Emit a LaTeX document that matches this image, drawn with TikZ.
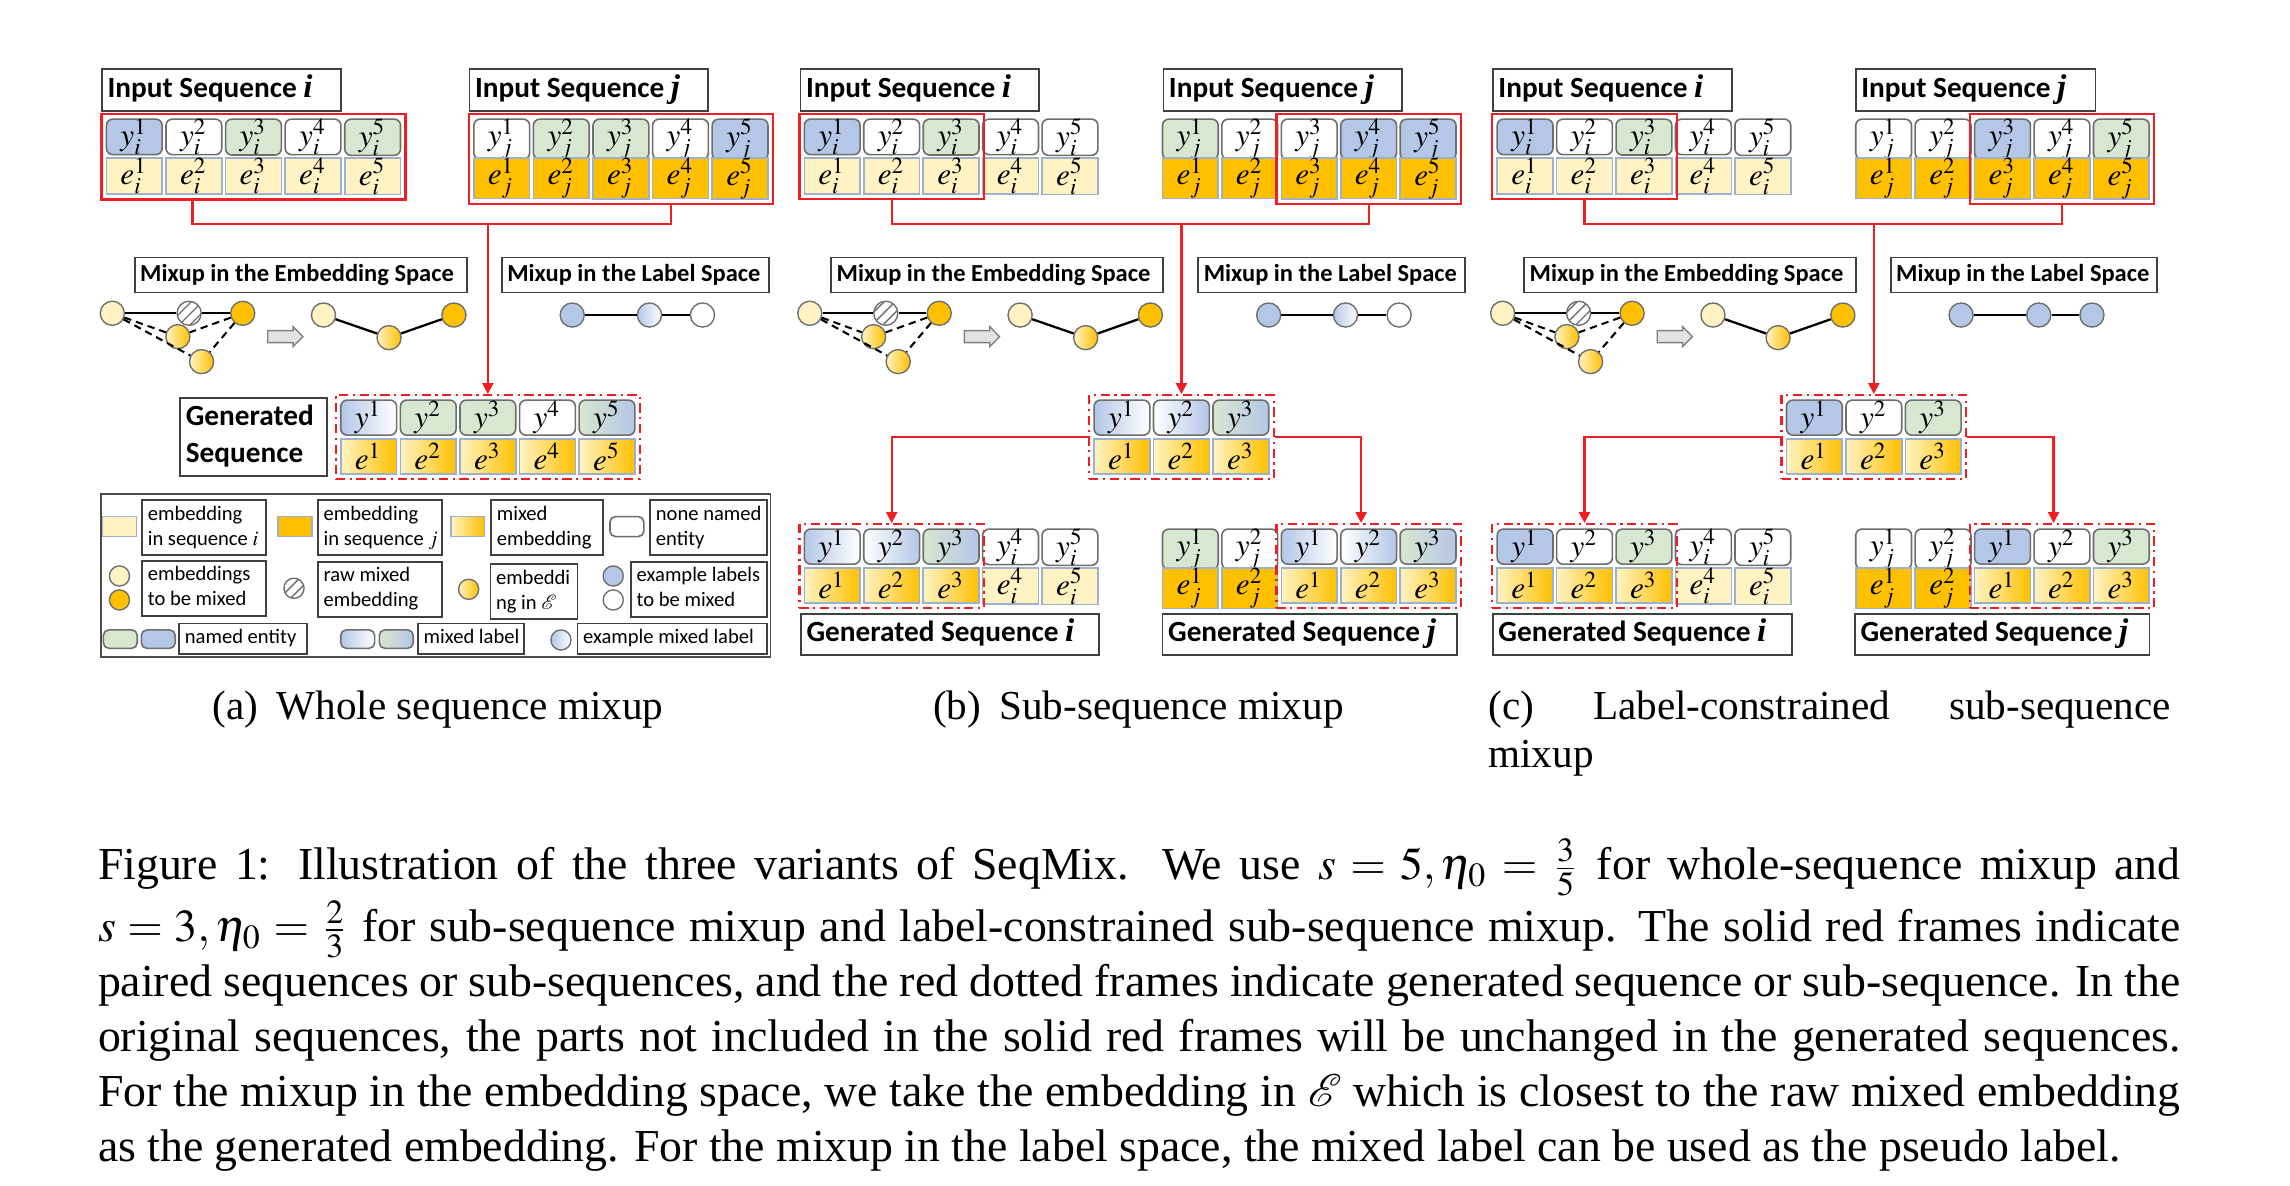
\documentclass[tikz,border=0pt]{standalone}
\usepackage{mathptmx}
\usepackage{fontspec}
\setmainfont{Liberation Serif}
\newfontfamily\calib{Carlito}
\newfontfamily\tms{Liberation Serif}
\usetikzlibrary{patterns.meta,fit,arrows.meta}
\definecolor{lblue}{HTML}{B4C7E7}
\definecolor{lgreen}{HTML}{D8E7D0}
\definecolor{lyel}{HTML}{FFF3C4}
\definecolor{orng}{HTML}{FFC000}
\definecolor{ybord}{HTML}{6E6E6E}
\definecolor{ebord}{HTML}{9FB0CB}
\definecolor{myred}{HTML}{F01E23}
\newdimen\uu \uu=0.31924pt
\newcommand\ib[1]{{\tms\bfseries\itshape\fontsize{7.2}{8}\selectfont #1}}
\tikzset{
 ycell/.style={draw=ybord, line width=0.35pt, rounded corners=1.4pt, minimum width=38.2\uu, minimum height=24\uu, inner sep=0pt, font=\fontsize{6.8}{7.5}\selectfont},
 ecell/.style={draw=ebord, line width=0.35pt, minimum width=38.2\uu, minimum height=24\uu, inner sep=0pt, font=\fontsize{6.8}{7.5}\selectfont},
 yb/.style={fill=lblue}, yw/.style={fill=white}, yg/.style={fill=lgreen},
 ybw/.style={left color=lblue, right color=white},
 ywb/.style={left color=white, right color=lblue},
 ygb/.style={left color=lgreen, right color=lblue},
 ei/.style={fill=lyel}, ej/.style={fill=orng}, em/.style={left color=lyel, right color=orng},
 redframe/.style={draw=myred, line width=0.5pt, inner sep=2.8\uu},
 genframe/.style={draw=myred, line width=0.5pt, inner sep=2.8\uu, dash pattern=on 2pt off 1pt on 0.5pt off 1pt},
 redline/.style={draw=myred, line width=0.5pt},
 redarrow/.style={draw=myred, line width=0.5pt, -{Triangle[length=2.4pt,width=2.4pt]}},
 tbox/.style={draw=black!75, line width=0.4pt, fill=white, inner sep=0pt, anchor=north west, font=\calib\bfseries\fontsize{6.4}{8}\selectfont},
 mixfont/.style={font=\calib\bfseries\fontsize{5.35}{6.5}\selectfont},
 legfont/.style={font=\calib\fontsize{4.5}{5.45}\selectfont},
 gc/.style={circle, draw=ybord, line width=0.3pt, minimum size=16.5\uu, inner sep=0pt},
 lc/.style={gc, minimum size=13.8\uu},
 hat/.style={fill=white, postaction={pattern={Lines[angle=45,distance=1.7pt,line width=0.3pt]}, pattern color=ybord}},
 gline/.style={line width=0.5pt, black},
 dline/.style={line width=0.45pt, black, dash pattern=on 1.6pt off 1.1pt},
 garrowst/.style={draw=gray, fill=gray!22, line width=0.3pt},
 sw/.style={line width=0.35pt, minimum width=23.2\uu, minimum height=13.7\uu, inner sep=0pt},
 swr/.style={draw=ybord, line width=0.35pt, rounded corners=1.2pt, minimum width=23.2\uu, minimum height=12.6\uu, inner sep=0pt},
}
\newcommand\cp[7]{%
  \node[ycell,#4,anchor=north west] (#1y) at (#2,#3) {$#5$};
  \node[ecell,#6,anchor=north west] (#1e) at (#2,#3+26.8) {$#7$};}
\newcommand\tb[7][]{\node[tbox,#1,minimum width=#5\uu,minimum height=#6\uu] (#2) at (#3,#4) {\hbox to #5\uu{\hskip3.8\uu\begin{tabular}{@{}l@{}}#7\end{tabular}\hfil}};}
% block arrow: #1 = left x, #2 = centre y
\newcommand\blockarrow[2]{\draw[garrowst] (#1,#2-4.1) -- (#1+17.4,#2-4.1) -- (#1+17.4,#2-6.85) -- (#1+24.1,#2) -- (#1+17.4,#2+6.85) -- (#1+17.4,#2+4.1) -- (#1,#2+4.1) -- cycle;}
\begin{document}
\begin{tikzpicture}[x=0.31924pt,y=-0.31924pt]
\path[use as bounding box, fill=white] (0,0) rectangle (1568,812);

% ================= Panel (a) =================
\tb{aIn}{69.3}{46.8}{163.5}{28.5}{Input Sequence \ib{i}}
\tb{aJn}{320.9}{46.8}{163.5}{28.5}{Input Sequence \ib{j}}
\cp{ai1}{72.3}{81}{yb}{y_i^1}{ei}{e_i^1}
\cp{ai2}{113.1}{81}{yw}{y_i^2}{ei}{e_i^2}
\cp{ai3}{153.9}{81}{yg}{y_i^3}{ei}{e_i^3}
\cp{ai4}{194.7}{81}{yw}{y_i^4}{ei}{e_i^4}
\cp{ai5}{235.5}{81}{yg}{y_i^5}{ei}{e_i^5}
\cp{aj1}{323.9}{81}{yw}{y_j^1}{ej}{e_j^1}
\cp{aj2}{364.7}{81}{yg}{y_j^2}{ej}{e_j^2}
\cp{aj3}{405.5}{81}{yg}{y_j^3}{ej}{e_j^3}
\cp{aj4}{446.3}{81}{yw}{y_j^4}{ej}{e_j^4}
\cp{aj5}{487.1}{81}{yb}{y_j^5}{ej}{e_j^5}
\node[redframe, fit=(ai1y)(ai5e)] (aIfr) {};
\node[redframe, fit=(aj1y)(aj5e)] (aJfr) {};
\tb[mixfont]{aEmb}{91.6}{175.7}{227.4}{24}{Mixup in the Embedding Space}
\tb[mixfont]{aLab}{342.9}{175.7}{182.8}{24}{Mixup in the Label Space}
\node[gc, fill=lyel] (ac1) at (76.9,214.5) {};
\node[gc, hat] (ac2) at (129.5,214.5) {};
\node[gc, fill=orng] (ac3) at (166.2,214.5) {};
\node[gc, em] (ac4) at (121.8,230.5) {};
\node[gc, em] (ac5) at (138,247.6) {};
\draw[gline] (ac1) -- (ac2) -- (ac3);
\draw[dline] (ac1) -- (ac4); \draw[dline] (ac1) -- (ac5);
\draw[dline] (ac3) -- (ac4); \draw[dline] (ac3) -- (ac5);
\blockarrow{183.3}{230.5}
\node[gc, fill=lyel] (ad1) at (221.5,215.7) {};
\node[gc, em] (ad2) at (266.4,231.2) {};
\node[gc, fill=orng] (ad3) at (310.8,215.7) {};
\draw[gline] (ad1) -- (ad2) -- (ad3);
\node[gc, fill=lblue] (al1) at (391.8,215.7) {};
\node[gc, ybw] (al2) at (444.7,215.7) {};
\node[gc, fill=white] (al3) at (481,215.7) {};
\draw[gline] (al1) -- (al2) -- (al3);
\tb{aGen}{122.8}{271.6}{100.2}{53.6}{Generated\\Sequence}
\cp{ag1}{232.8}{273.4}{ybw}{y^1}{em}{e^1}
\cp{ag2}{273.6}{273.4}{yg}{y^2}{em}{e^2}
\cp{ag3}{314.4}{273.4}{yg}{y^3}{em}{e^3}
\cp{ag4}{355.2}{273.4}{yw}{y^4}{em}{e^4}
\cp{ag5}{396.0}{273.4}{ygb}{y^5}{em}{e^5}
\node[genframe, fit=(ag1y)(ag5e)] (aGfr) {};
\coordinate (aL) at (131.9,153.6);
\coordinate (aR) at (459.6,153.6);
\draw[redline] (aIfr.south -| aL) -- (aL) -- (aR) -- (aJfr.south -| aR);
\draw[redarrow] (aGfr.north |- aL) -- (aGfr.north);

% legend
\node[draw=black!70, line width=0.4pt, anchor=north west, minimum width=458.6\uu, minimum height=111.3\uu, inner sep=0pt] (leg) at (68.3,337.8) {};
\node[sw, draw=ebord, fill=lyel] (lsA) at (81.8,360.55) {};
\tb[legfont]{ltA}{96.8}{341.9}{84.7}{37.4}{embedding\\in sequence $i$}
\node[sw, draw=ebord, fill=orng] (lsB) at (201.95,360.55) {};
\tb[legfont]{ltB}{217.2}{341.9}{84.7}{37.4}{embedding\\in sequence $j$}
\node[sw, draw=ebord, em] (lsC) at (320.25,360.55) {};
\tb[legfont]{ltC}{335.8}{341.9}{76.2}{37.4}{mixed\\embedding}
\node[swr, fill=white, minimum height=13.7\uu] (lsD) at (429.25,360.55) {};
\tb[legfont]{ltD}{444.7}{341.9}{80.1}{37.4}{none named\\entity}
\node[lc, fill=lyel] (lcA1) at (81.8,394.4) {};
\node[lc, fill=orng] (lcA2) at (81.8,410.8) {};
\tb[legfont]{ltE}{96.8}{383.4}{84.7}{37.7}{embeddings\\to be mixed}
\node[lc, hat] (lcB) at (201.3,402.8) {};
\tb[legfont]{ltF}{217.2}{384.1}{84.7}{37.7}{raw mixed\\embedding}
\node[lc, em] (lcC) at (320.9,403.5) {};
\tb[legfont]{ltG}{335.2}{385.7}{59.6}{37.7}{embeddi\\ng in $\mathcal{E}$}
\node[lc, fill=lblue] (lcD1) at (419.9,394.4) {};
\node[lc, fill=white] (lcD2) at (419.9,410.8) {};
\tb[legfont]{ltH}{431.5}{384.1}{93.3}{37.7}{example labels\\to be mixed}
\node[swr, fill=lgreen] (lsE1) at (82.4,437.6) {};
\node[swr, fill=lblue] (lsE2) at (108.4,437.6) {};
\tb[legfont]{ltI}{122.2}{426.3}{87.1}{20.6}{named entity}
\node[swr, ybw] (lsF1) at (244.9,437.6) {};
\node[swr, ygb] (lsF2) at (271.35,437.6) {};
\tb[legfont]{ltJ}{285.7}{426.3}{72.5}{20.6}{mixed label}
\node[lc, ybw] (lcK) at (384.1,438.2) {};
\tb[legfont]{ltK}{394.8}{426.3}{130}{20.6}{example mixed label}

% ================= Panel (b) =================
\tb{bIn}{547.5}{46.8}{163.2}{28.5}{Input Sequence \ib{i}}
\tb{bJn}{796}{46.8}{163.5}{28.5}{Input Sequence \ib{j}}
\cp{bi1}{550.2}{81}{yb}{y_i^1}{ei}{e_i^1}
\cp{bi2}{590.9}{81}{yw}{y_i^2}{ei}{e_i^2}
\cp{bi3}{631.6}{81}{yg}{y_i^3}{ei}{e_i^3}
\cp{bi4}{672.3}{81}{yw}{y_i^4}{ei}{e_i^4}
\cp{bi5}{713.0}{81}{yw}{y_i^5}{ei}{e_i^5}
\cp{bj1}{795.4}{81}{yg}{y_j^1}{ej}{e_j^1}
\cp{bj2}{836.1}{81}{yw}{y_j^2}{ej}{e_j^2}
\cp{bj3}{876.8}{81}{yw}{y_j^3}{ej}{e_j^3}
\cp{bj4}{917.5}{81}{yb}{y_j^4}{ej}{e_j^4}
\cp{bj5}{958.2}{81}{yb}{y_j^5}{ej}{e_j^5}
\node[redframe, fit=(bi1y)(bi3e)] (bIfr) {};
\node[redframe, fit=(bj3y)(bj5e)] (bJfr) {};
\tb[mixfont]{bEmb}{568.5}{175.7}{227.2}{24}{Mixup in the Embedding Space}
\tb[mixfont]{bLab}{819.8}{175.7}{182.5}{24}{Mixup in the Label Space}
\node[gc, fill=lyel] (bc1) at (554.5,214.5) {};
\node[gc, hat] (bc2) at (606.5,214.5) {};
\node[gc, fill=orng] (bc3) at (643.1,214.5) {};
\node[gc, em] (bc4) at (598.2,230.5) {};
\node[gc, em] (bc5) at (615,247.6) {};
\draw[gline] (bc1) -- (bc2) -- (bc3);
\draw[dline] (bc1) -- (bc4); \draw[dline] (bc1) -- (bc5);
\draw[dline] (bc3) -- (bc4); \draw[dline] (bc3) -- (bc5);
\blockarrow{660.3}{230.5}
\node[gc, fill=lyel] (bd1) at (698.5,215.7) {};
\node[gc, em] (bd2) at (743.4,231.2) {};
\node[gc, fill=orng] (bd3) at (787.7,215.7) {};
\draw[gline] (bd1) -- (bd2) -- (bd3);
\node[gc, fill=lblue] (bl1) at (868.7,215.7) {};
\node[gc, ybw] (bl2) at (921.3,215.7) {};
\node[gc, fill=white] (bl3) at (958,215.7) {};
\draw[gline] (bl1) -- (bl2) -- (bl3);
\cp{bg1}{748.6}{273.4}{ybw}{y^1}{em}{e^1}
\cp{bg2}{789.3}{273.4}{ywb}{y^2}{em}{e^2}
\cp{bg3}{830.0}{273.4}{ygb}{y^3}{em}{e^3}
\node[genframe, fit=(bg1y)(bg3e)] (bGfr) {};
\cp{bgi1}{550.2}{361.7}{ybw}{y^1}{em}{e^1}
\cp{bgi2}{590.9}{361.7}{ywb}{y^2}{em}{e^2}
\cp{bgi3}{631.6}{361.7}{ygb}{y^3}{em}{e^3}
\cp{bgi4}{672.3}{361.7}{yw}{y_i^4}{ei}{e_i^4}
\cp{bgi5}{713.0}{361.7}{yw}{y_i^5}{ei}{e_i^5}
\cp{bgj1}{795.4}{361.7}{yg}{y_j^1}{ej}{e_j^1}
\cp{bgj2}{836.1}{361.7}{yw}{y_j^2}{ej}{e_j^2}
\cp{bgj3}{876.8}{361.7}{ybw}{y^1}{em}{e^1}
\cp{bgj4}{917.5}{361.7}{ywb}{y^2}{em}{e^2}
\cp{bgj5}{958.2}{361.7}{ygb}{y^3}{em}{e^3}
\node[genframe, fit=(bgi1y)(bgi3e)] (bGIfr) {};
\node[genframe, fit=(bgj3y)(bgj5e)] (bGJfr) {};
\tb{bGIl}{547.8}{419.5}{204.2}{28.5}{Generated Sequence \ib{i}}
\tb{bGJl}{795.4}{419.5}{201.7}{28.5}{Generated Sequence \ib{j}}
\coordinate (bM) at (0,153.6);
\coordinate (bRx) at (932,0);
\draw[redline] (bIfr.south) -- (bIfr.south |- bM) -- (bJfr.south |- bM) -- (bJfr.south);
\draw[redarrow] (bGfr.north |- bM) -- (bGfr.north);
\draw[redarrow] (bGfr.west) -| (bGIfr.north);
\draw[redarrow] (bGfr.east) -| (bGJfr.north -| bRx);

% ================= Panel (c) =================
\tb{cIn}{1021.6}{46.8}{163.5}{28.5}{Input Sequence \ib{i}}
\tb{cJn}{1270.1}{46.8}{164.1}{28.5}{Input Sequence \ib{j}}
\cp{ci1}{1024.6}{81}{yb}{y_i^1}{ei}{e_i^1}
\cp{ci2}{1065.3}{81}{yw}{y_i^2}{ei}{e_i^2}
\cp{ci3}{1106.0}{81}{yg}{y_i^3}{ei}{e_i^3}
\cp{ci4}{1146.7}{81}{yw}{y_i^4}{ei}{e_i^4}
\cp{ci5}{1187.4}{81}{yw}{y_i^5}{ei}{e_i^5}
\cp{cj1}{1270.1}{81}{yw}{y_j^1}{ej}{e_j^1}
\cp{cj2}{1310.8}{81}{yw}{y_j^2}{ej}{e_j^2}
\cp{cj3}{1351.5}{81}{yb}{y_j^3}{ej}{e_j^3}
\cp{cj4}{1392.2}{81}{yw}{y_j^4}{ej}{e_j^4}
\cp{cj5}{1432.9}{81}{yg}{y_j^5}{ej}{e_j^5}
\node[redframe, fit=(ci1y)(ci3e)] (cIfr) {};
\node[redframe, fit=(cj3y)(cj5e)] (cJfr) {};
\tb[mixfont]{cEmb}{1043}{175.7}{227.1}{24}{Mixup in the Embedding Space}
\tb[mixfont]{cLab}{1293.9}{175.7}{182.5}{24}{Mixup in the Label Space}
\node[gc, fill=lyel] (cc1) at (1028.9,214.5) {};
\node[gc, hat] (cc2) at (1080.9,214.5) {};
\node[gc, fill=orng] (cc3) at (1117.5,214.5) {};
\node[gc, em] (cc4) at (1072.9,230.5) {};
\node[gc, em] (cc5) at (1089.1,247.6) {};
\draw[gline] (cc1) -- (cc2) -- (cc3);
\draw[dline] (cc1) -- (cc4); \draw[dline] (cc1) -- (cc5);
\draw[dline] (cc3) -- (cc4); \draw[dline] (cc3) -- (cc5);
\blockarrow{1134.7}{230.5}
\node[gc, fill=lyel] (cd1) at (1172.9,215.7) {};
\node[gc, em] (cd2) at (1217.5,231.2) {};
\node[gc, fill=orng] (cd3) at (1261.8,215.7) {};
\draw[gline] (cd1) -- (cd2) -- (cd3);
\node[gc, fill=lblue] (cl1) at (1342.8,215.7) {};
\node[gc, fill=lblue] (cl2) at (1396,215.7) {};
\node[gc, fill=lblue] (cl3) at (1432.4,215.7) {};
\draw[gline] (cl1) -- (cl2) -- (cl3);
\cp{cg1}{1222.7}{273.4}{yb}{y^1}{em}{e^1}
\cp{cg2}{1263.4}{273.4}{yw}{y^2}{em}{e^2}
\cp{cg3}{1304.1}{273.4}{yg}{y^3}{em}{e^3}
\node[genframe, fit=(cg1y)(cg3e)] (cGfr) {};
\cp{cgi1}{1024.6}{361.7}{yb}{y^1}{em}{e^1}
\cp{cgi2}{1065.3}{361.7}{yw}{y^2}{em}{e^2}
\cp{cgi3}{1106.0}{361.7}{yg}{y^3}{em}{e^3}
\cp{cgi4}{1146.7}{361.7}{yw}{y_i^4}{ei}{e_i^4}
\cp{cgi5}{1187.4}{361.7}{yw}{y_i^5}{ei}{e_i^5}
\cp{cgj1}{1270.1}{361.7}{yw}{y_j^1}{ej}{e_j^1}
\cp{cgj2}{1310.8}{361.7}{yw}{y_j^2}{ej}{e_j^2}
\cp{cgj3}{1351.5}{361.7}{yb}{y^1}{em}{e^1}
\cp{cgj4}{1392.2}{361.7}{yw}{y^2}{em}{e^2}
\cp{cgj5}{1432.9}{361.7}{yg}{y^3}{em}{e^3}
\node[genframe, fit=(cgi1y)(cgi3e)] (cGIfr) {};
\node[genframe, fit=(cgj3y)(cgj5e)] (cGJfr) {};
\tb{cGIl}{1021.6}{419.5}{204.8}{28.5}{Generated Sequence \ib{i}}
\tb{cGJl}{1269.5}{419.5}{201.7}{28.5}{Generated Sequence \ib{j}}
\coordinate (cM) at (0,153.6);
\coordinate (cRx) at (1406.1,0);
\draw[redline] (cIfr.south) -- (cIfr.south |- cM) -- (cJfr.south |- cM) -- (cJfr.south);
\draw[redarrow] (cGfr.north |- cM) -- (cGfr.north);
\draw[redarrow] (cGfr.west) -| (cGIfr.north);
\draw[redarrow] (cGfr.east) -| (cGJfr.north -| cRx);

% ================= captions =================
\node[anchor=base, inner sep=0pt, font=\fontsize{9}{10.8}\selectfont] (capa) at (300,492.7) {(a)\hspace{4pt}Whole sequence mixup};
\node[anchor=base, inner sep=0pt, font=\fontsize{9}{10.8}\selectfont] (capb) at (779.5,492.7) {(b)\hspace{4pt}Sub-sequence mixup};
\node[anchor=base west, inner sep=0pt, font=\fontsize{9}{10.8}\selectfont] (capc) at (1018.5,492.7) {\makebox[149.2pt][s]{(c) Label-constrained sub-sequence}};
\node[anchor=base west, inner sep=0pt, font=\fontsize{9}{10.8}\selectfont] (capc2) at (1018.5,525.6) {mixup};
\node[anchor=base west, inner sep=0pt, text width=455.24pt, align=justify, font=\fontsize{10}{12}\selectfont] (cap) at (66.5,602.5) {Figure 1: Illustration of the three variants of SeqMix.  We use $s=5,\eta_0=\frac{3}{5}$ for whole-sequence mixup and\linebreak
$s=3,\eta_0=\frac{2}{3}$ for sub-sequence mixup and label-constrained sub-sequence mixup. The solid red frames indicate\linebreak
paired sequences or sub-sequences, and the red dotted frames indicate generated sequence or sub-sequence. In the\linebreak
original sequences, the parts not included in the solid red frames will be unchanged in the generated sequences.\linebreak
For the mixup in the embedding space, we take the embedding in $\mathcal{E}$ which is closest to the raw mixed embedding\linebreak
as the generated embedding. For the mixup in the label space, the mixed label can be used as the pseudo label.};
\end{tikzpicture}
\end{document}
